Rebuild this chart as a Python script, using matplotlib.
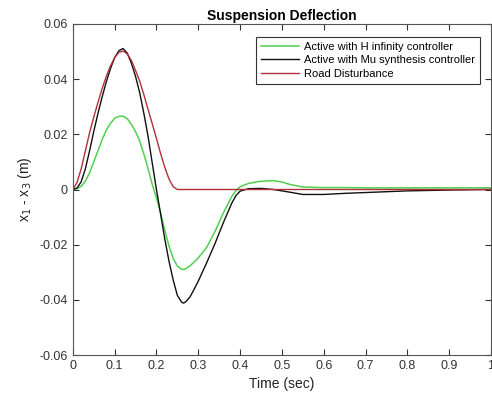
import numpy as np
import matplotlib.pyplot as plt

plt.rcParams['font.family'] = ['Liberation Sans', 'DejaVu Sans']

# time samples (s)
t = [0, 0.01, 0.02, 0.03, 0.04, 0.05, 0.06, 0.07, 0.08, 0.09, 0.10,
     0.11, 0.12, 0.13, 0.14, 0.15, 0.16, 0.17, 0.18, 0.19, 0.20,
     0.21, 0.22, 0.23, 0.24, 0.25, 0.26, 0.265, 0.27, 0.28, 0.29, 0.30, 0.32,
     0.34, 0.36, 0.38, 0.39, 0.40, 0.42, 0.45, 0.48, 0.50, 0.52, 0.55,
     0.60, 0.65, 0.70, 0.80, 0.90, 1.00]

h_inf = [0, 0.0003, 0.0012, 0.003, 0.006, 0.010, 0.014, 0.018, 0.0215, 0.024, 0.0258,
         0.0265, 0.0266, 0.0257, 0.0236, 0.021, 0.0175, 0.0128, 0.0075, 0.0018, -0.003,
         -0.0085, -0.0148, -0.0205, -0.025, -0.0278, -0.0289, -0.029, -0.0287, -0.0277, -0.0263, -0.0248, -0.021,
         -0.0152, -0.0085, -0.0025, -0.0004, 0.001, 0.0022, 0.003, 0.0032, 0.0027, 0.0018, 0.0009,
         0.0007, 0.0007, 0.0006, 0.0006, 0.0006, 0.0006]

mu_syn = [0, 0.0005, 0.0028, 0.0075, 0.014, 0.021, 0.0275, 0.0335, 0.039, 0.0438, 0.0478,
          0.0503, 0.0511, 0.0495, 0.0458, 0.041, 0.035, 0.0275, 0.0192, 0.0095, 0.0,
          -0.009, -0.018, -0.026, -0.0328, -0.0384, -0.0408, -0.0412, -0.0407, -0.039, -0.0362, -0.0332, -0.0266,
          -0.0196, -0.012, -0.005, -0.0022, -0.0006, 0.0003, 0.0004, 0.0, -0.0005, -0.001, -0.0018,
          -0.0018, -0.0014, -0.0011, -0.0005, -0.0002, 0.0]

road = [0, 0.0025, 0.0075, 0.014, 0.0205, 0.0262, 0.0315, 0.0365, 0.041, 0.0448, 0.0478,
        0.0497, 0.0502, 0.0492, 0.0468, 0.0432, 0.0392, 0.0343, 0.029, 0.0238, 0.0185,
        0.013, 0.008, 0.0038, 0.001, 0, 0, 0, 0, 0, 0, 0, 0,
        0, 0, 0, 0, 0, 0, 0, 0, 0, 0, 0,
        0, 0, 0, 0, 0, 0]

fig = plt.figure(figsize=(4.92, 4.0), dpi=100)
ax = fig.add_axes([0.148, 0.1125, 0.85, 0.8275])

ax.plot(t, h_inf, color='#4fd04f', lw=1.1, label='Active with H infinity controller')
ax.plot(t, mu_syn, color='#111111', lw=1.0, label='Active with Mu synthesis controller')
ax.plot(t, road, color='#b0303a', lw=1.0, label='Road Disturbance')

ax.set_xlim(0, 1)
ax.set_ylim(-0.06, 0.06)
ax.set_xticks(np.arange(0, 1.01, 0.1))
ax.set_xticklabels(['0', '0.1', '0.2', '0.3', '0.4', '0.5', '0.6', '0.7', '0.8', '0.9', '1'])
ax.set_yticks(np.arange(-0.06, 0.061, 0.02))
ax.set_yticklabels(['-0.06', '-0.04', '-0.02', '0', '0.02', '0.04', '0.06'])
ax.tick_params(direction='in', top=True, right=True, labelsize=9, colors='#333333',
               length=4, width=0.8)
for s in ax.spines.values():
    s.set_color('#555555')
    s.set_linewidth(0.8)

ax.set_title('Suspension Deflection', fontsize=10, fontweight='bold', pad=3)
ax.set_xlabel('Time (sec)', fontsize=10, color='#222222')
ax.set_ylabel('x$_1$ - x$_3$ (m)', fontsize=10, color='#222222')

leg = ax.legend(loc='upper right', fontsize=8, fancybox=False, framealpha=1,
                edgecolor='#333333', handlelength=3.4, handletextpad=0.5,
                borderpad=0.45, labelspacing=0.3, borderaxespad=0,
                bbox_to_anchor=(0.974, 0.961))
leg.get_frame().set_linewidth(0.8)

fig.savefig('out.png', dpi=100)
